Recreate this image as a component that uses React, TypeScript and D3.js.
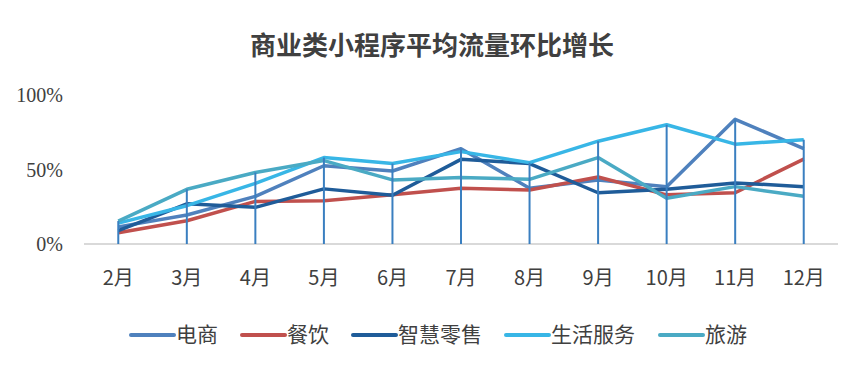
import { useEffect, useRef } from 'react'
import * as d3 from 'd3'

const months = ['2月', '3月', '4月', '5月', '6月', '7月', '8月', '9月', '10月', '11月', '12月']
const seriesNames = ['电商', '餐饮', '智慧零售', '生活服务', '旅游']
const seriesColors = ['#4f81bd', '#c0504d', '#1f5c99', '#38b6e6', '#4aaac4']

// values in %
const ecommerce = [11.5, 19.5, 32, 52.5, 49, 64, 37.4, 43, 38.5, 83.7, 64]
const catering = [7.5, 15.6, 28.6, 29, 33, 37.4, 36.2, 45, 33, 34.4, 57]
const smartRetail = [9, 27, 24.6, 37, 32.7, 56.8, 54, 34.4, 36.7, 41, 38.5]
const lifeService = [14, 25.7, 40.7, 58, 54, 62, 54.6, 69, 80, 67, 70]
const travel = [15.4, 36.7, 48, 56, 43, 44.7, 43.4, 58, 30.7, 38.5, 32]

const yTicks = [0, 50, 100]

export default function App() {
  const ref = useRef<SVGSVGElement | null>(null)

  useEffect(() => {
    if (!ref.current) return
    const svg = d3.select(ref.current)
    svg.selectAll('*').remove()

    const width = 865
    const height = 371
    const left = 84, right = 838, top = 95, bottom = 244

    const x = d3.scaleBand().domain(months).range([left, right])
    const y = d3.scaleLinear().domain([0, 100]).range([bottom, top])
    const cx = (m: string) => (x(m) as number) + x.bandwidth() / 2

    const allSeries = [ecommerce, catering, smartRetail, lifeService, travel]

    svg.attr('width', width).attr('height', height)

    // title
    svg.append('text')
      .attr('x', 432)
      .attr('y', 46)
      .attr('dy', '0.35em')
      .attr('text-anchor', 'middle')
      .attr('font-family', '"Noto Sans CJK SC", sans-serif')
      .attr('font-weight', 'bold')
      .attr('font-size', '26px')
      .attr('fill', '#404040')
      .text('商业类小程序平均流量环比增长')

    // y axis labels
    svg.selectAll('.ytick')
      .data(yTicks)
      .enter()
      .append('text')
      .attr('x', 63)
      .attr('y', d => y(d))
      .attr('dy', '0.35em')
      .attr('text-anchor', 'end')
      .attr('font-family', '"Liberation Serif", serif')
      .attr('font-size', '20px')
      .attr('fill', '#404040')
      .text(d => d + '%')

    // x axis line
    svg.append('line')
      .attr('x1', left).attr('x2', right)
      .attr('y1', y(0)).attr('y2', y(0))
      .attr('stroke', '#d9d9d9')
      .attr('stroke-width', 2)

    // x labels
    svg.selectAll('.xtick')
      .data(months)
      .enter()
      .append('text')
      .attr('x', d => cx(d))
      .attr('y', 278)
      .attr('dy', '0.35em')
      .attr('text-anchor', 'middle')
      .attr('font-family', '"Noto Sans CJK SC", sans-serif')
      .attr('font-size', '20px')
      .attr('fill', '#404040')
      .text(d => d)

    // series lines
    const line = d3.line<number>()
      .x((_, i) => cx(months[i]))
      .y(d => y(d))

    allSeries.forEach((vals, i) => {
      svg.append('path')
        .datum(vals)
        .attr('d', line)
        .attr('fill', 'none')
        .attr('stroke', seriesColors[i])
        .attr('stroke-width', 3.5)
        .attr('stroke-linejoin', 'round')
    })

    // drop lines from max to axis
    const maxes = months.map((_, i) => d3.max(allSeries, s => s[i]) as number)
    svg.selectAll('.drop')
      .data(months)
      .enter()
      .append('line')
      .attr('x1', d => cx(d)).attr('x2', d => cx(d))
      .attr('y1', (_, i) => y(maxes[i]))
      .attr('y2', y(0))
      .attr('stroke', '#3a7fc0')
      .attr('stroke-width', 2)

    // legend
    const legendX = [131, 242, 353, 506, 660]
    const lg = svg.append('g')
    seriesNames.forEach((name, i) => {
      lg.append('line')
        .attr('x1', legendX[i]).attr('x2', legendX[i] + 43)
        .attr('y1', 335).attr('y2', 335)
        .attr('stroke', seriesColors[i])
        .attr('stroke-width', 4)
        .attr('stroke-linecap', 'round')
      lg.append('text')
        .attr('x', legendX[i] + 45)
        .attr('y', 335)
        .attr('dy', '0.35em')
        .attr('font-family', '"Noto Sans CJK SC", sans-serif')
        .attr('font-size', '21px')
        .attr('fill', '#404040')
        .text(name)
    })
  }, [])

  return (
    <div style={{ margin: -8 }}>
      <svg ref={ref} style={{ display: 'block', background: '#fff' }} />
    </div>
  )
}
